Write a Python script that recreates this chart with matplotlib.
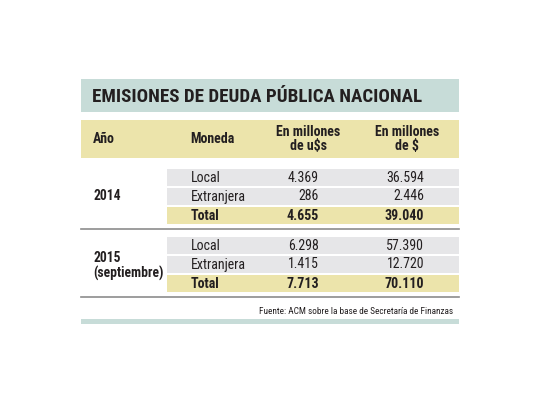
import matplotlib.pyplot as plt
from matplotlib.patches import Rectangle
from matplotlib import font_manager

# data
title = 'EMISIONES DE DEUDA PÚBLICA NACIONAL'
headers = ['Año', 'Moneda', 'En millones\nde u$s', 'En millones\nde $']
years = ['2014', '2015\n(septiembre)']
monedas = ['Local', 'Extranjera', 'Total']
usd_2014 = ['4.369', '286', '4.655']
ars_2014 = ['36.594', '2.446', '39.040']
usd_2015 = ['6.298', '1.415', '7.713']
ars_2015 = ['57.390', '12.720', '70.110']
source = 'Fuente: ACM sobre la base de Secretaría de Finanzas'

usd = [usd_2014, usd_2015]
ars = [ars_2014, ars_2015]

names = {f.name for f in font_manager.fontManager.ttflist}
fam = 'Liberation Sans'
for cand in ['Liberation Sans Narrow', 'Roboto Condensed', 'DejaVu Sans Condensed']:
    if cand in names:
        fam = cand
        break
plt.rcParams['font.family'] = [fam, 'DejaVu Sans']

teal = '#c7dcd8'
yellow = '#ece4ab'
gray = '#e6e6e8'
txt = '#231f20'

fig = plt.figure(figsize=(5.4, 4.05), dpi=100)
ax = fig.add_axes([0, 0, 1, 1])
ax.set_xlim(0, 540)
ax.set_ylim(405, 0)
ax.axis('off')

L, R = 81, 459
ax.add_patch(Rectangle((L, 79), R - L, 33, color=teal, lw=0))
t = ax.text(92, 97, title, fontsize=17, fontweight='bold', color=txt, va='center')
# shrink the title so it spans the same width as in the reference
r = fig.canvas.get_renderer()
w = t.get_window_extent(r).width
t.set_fontsize(17 * 330 / w)

ax.add_patch(Rectangle((L, 120), R - L, 38, color=yellow, lw=0))
ax.text(93, 139, headers[0], fontsize=10, fontweight='bold', color=txt, va='center')
ax.text(190, 139, headers[1], fontsize=10, fontweight='bold', color=txt, va='center')
ax.text(308, 139, headers[2], fontsize=10, fontweight='bold', color=txt, va='center',
        ha='center', linespacing=1.0)
ax.text(407, 139, headers[3], fontsize=10, fontweight='bold', color=txt, va='center',
        ha='center', linespacing=1.0)

block_top = [169, 237]
year_y = [196, 266]
row_h = 19
for b in range(2):
    y0 = block_top[b]
    for i, m in enumerate(monedas):
        top = y0 + i * row_h
        is_total = m == 'Total'
        ax.add_patch(Rectangle((167, top), R - 167, row_h - 2,
                               color=yellow if is_total else gray, lw=0))
        fw = 'bold' if is_total else 'normal'
        yc = top + (row_h - 2) / 2
        ax.text(191, yc, m, fontsize=10, fontweight=fw, color=txt, va='center')
        ax.text(319, yc, usd[b][i], fontsize=10, fontweight=fw, color=txt,
                va='center', ha='right')
        ax.text(424, yc, ars[b][i], fontsize=10, fontweight=fw, color=txt,
                va='center', ha='right')
    ax.text(93, year_y[b], years[b], fontsize=9.8, fontweight='bold', color=txt,
            va='center', linespacing=1.05)
    line_y = y0 + 3 * row_h + 3
    ax.plot([L, R], [line_y, line_y], color='#8c8c8c', lw=1.2)

ax.text(453, 311, source, fontsize=6.7, color=txt, ha='right', va='center')
ax.add_patch(Rectangle((L, 319), R - L, 5, color=teal, lw=0))

fig.savefig('out.png', dpi=100)
